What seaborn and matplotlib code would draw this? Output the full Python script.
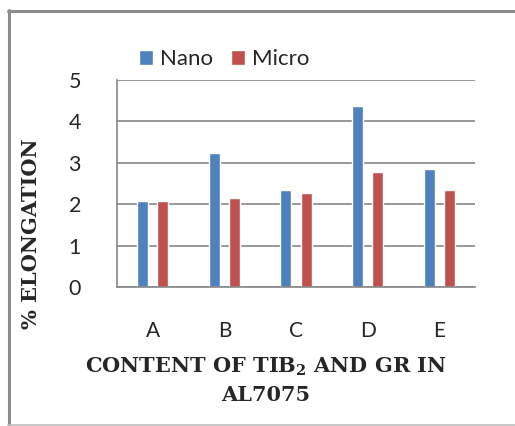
import matplotlib
matplotlib.use("Agg")
import matplotlib.pyplot as plt
import seaborn as sns
import pandas as pd
from matplotlib.lines import Line2D
from matplotlib.patches import Patch

categories = ["A", "B", "C", "D", "E"]
nano = [2.09, 3.23, 2.34, 4.38, 2.85]
micro = [2.09, 2.15, 2.27, 2.79, 2.34]
series = ["Nano", "Micro"]
colors = ["#4F81BD", "#C0504D"]
yticks = [0, 1, 2, 3, 4, 5]

df = pd.DataFrame({
    "cat": categories * 2,
    "val": nano + micro,
    "series": [series[0]] * len(categories) + [series[1]] * len(categories),
})

sns.set_style("white")
plt.rcParams["font.family"] = ["Lato", "DejaVu Sans"]
plt.rcParams["mathtext.fontset"] = "dejavuserif"

fig = plt.figure(figsize=(5.15, 4.26), dpi=100)
ax = fig.add_axes([117 / 515, 1 - 287.3 / 426, 358 / 515, 207.3 / 426])

sns.barplot(data=df, x="cat", y="val", hue="series", palette=colors,
            width=0.56, gap=0.45, ax=ax, legend=False, saturation=1,
            errorbar=None)

ax.set_ylim(0, 5)
ax.set_xlim(-0.5, 4.5)
ax.set_yticks(yticks)
ax.set_yticklabels([str(t) for t in yticks], fontsize=15.5)
ax.tick_params(axis="y", length=0, pad=26)
ax.tick_params(axis="x", length=0, pad=24, labelsize=15)
ax.yaxis.grid(True, color="#868686", linewidth=1.2)
ax.set_axisbelow(True)
for s in ["top", "right"]:
    ax.spines[s].set_visible(False)
for s in ["left", "bottom"]:
    ax.spines[s].set_color("#868686")
    ax.spines[s].set_linewidth(1.2)
ax.set_xlabel("")
ax.set_ylabel("")

serif = ["DejaVu Serif"]
fig.text(31 / 515, 1 - 234 / 426, "% ELONGATION", rotation=90, ha="center",
         va="center", fontsize=15, fontweight="bold", family=serif)
fig.text(266 / 515, 1 - 367 / 426, r"CONTENT OF TIB$_\mathbf{2}$ AND GR IN",
         ha="center", va="center", fontsize=15, fontweight="bold", family=serif)
fig.text(266 / 515, 1 - 395 / 426, "AL7075",
         ha="center", va="center", fontsize=15, fontweight="bold", family=serif)

handles = [Patch(facecolor=c, label=l) for c, l in zip(colors, series)]
fig.legend(handles=handles, loc="center left", bbox_to_anchor=(130 / 515, 1 - 59 / 426),
           ncol=2, frameon=False, fontsize=16, handlelength=0.65, handleheight=0.65,
           handletextpad=0.3, columnspacing=0.8, borderaxespad=0)

# chart frame
fig.add_artist(Line2D([8.5 / 515, 8.5 / 515], [1 - 10 / 426, 0], transform=fig.transFigure,
                      color="#8C8C8C", linewidth=2.2))
fig.add_artist(Line2D([8 / 515, 1], [1 - 10.5 / 426, 1 - 10.5 / 426], transform=fig.transFigure,
                      color="#8C8C8C", linewidth=2.2))
fig.add_artist(Line2D([8 / 515, 1], [1 - 424.5 / 426, 1 - 424.5 / 426], transform=fig.transFigure,
                      color="#BDBDBD", linewidth=1.2))

fig.savefig("out.png", dpi=100)
